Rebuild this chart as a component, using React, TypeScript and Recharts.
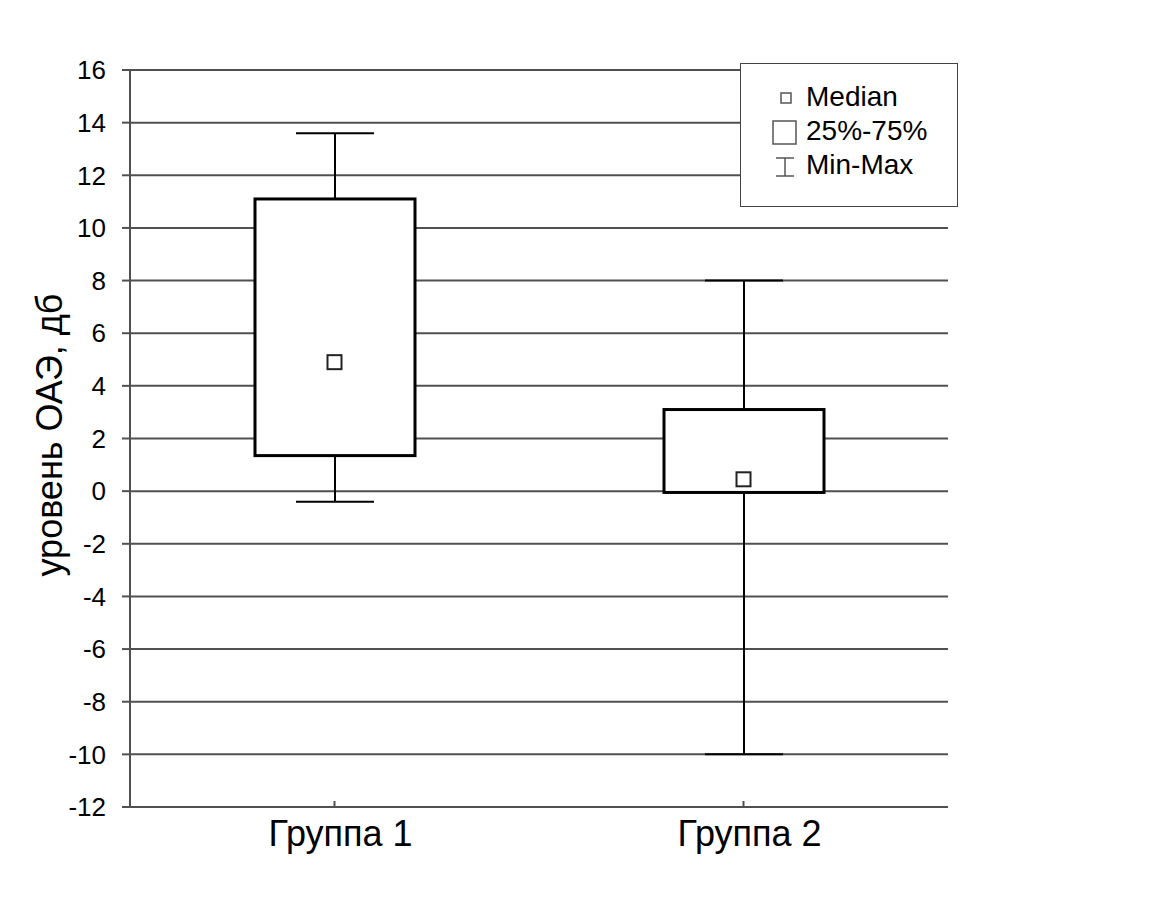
import React from "react";
import {
  ComposedChart,
  Bar,
  Line,
  XAxis,
  YAxis,
  CartesianGrid,
  Legend,
} from "recharts";

const groups = ["Группа 1", "Группа 2"];
const minValues = [-0.4, -10];
const q1Values = [1.35, -0.05];
const medianValues = [4.9, 0.45];
const q3Values = [11.1, 3.1];
const maxValues = [13.6, 8];
const yTicks = [-12, -10, -8, -6, -4, -2, 0, 2, 4, 6, 8, 10, 12, 14, 16];

const FONT = "'Liberation Sans', Arial, sans-serif";
const GRID = "#505050";

const data = groups.map((name, i) => ({
  name,
  whisker: [minValues[i], maxValues[i]],
  box: [q1Values[i], q3Values[i]],
  median: medianValues[i],
}));

// vertical line with caps at both ends
const WhiskerShape = (props: any) => {
  const { x, y, width, height } = props;
  const top = Math.min(y, y + height);
  const bottom = Math.max(y, y + height);
  const cx = x + width / 2;
  return (
    <g stroke="#000" strokeWidth={2}>
      <line x1={cx} y1={top} x2={cx} y2={bottom} />
      <line x1={x} y1={top} x2={x + width} y2={top} />
      <line x1={x} y1={bottom} x2={x + width} y2={bottom} />
    </g>
  );
};

const BoxShape = (props: any) => {
  const { x, y, width, height } = props;
  const top = Math.min(y, y + height);
  return (
    <rect
      x={x}
      y={top}
      width={width}
      height={Math.abs(height)}
      fill="#fff"
      stroke="#000"
      strokeWidth={3}
    />
  );
};

const MedianDot = (props: any) => {
  const { cx, cy, index } = props;
  if (cx == null || cy == null) return <g key={index} />;
  return (
    <rect
      key={index}
      x={cx - 7}
      y={cy - 7}
      width={14}
      height={14}
      fill="#fff"
      stroke="#222"
      strokeWidth={2}
    />
  );
};

const CategoryTick = (props: any) => {
  const { x, y, payload } = props;
  return (
    <g>
      <line x1={x} y1={y - 6} x2={x} y2={y} stroke={GRID} strokeWidth={2} />
      <text
        x={x + 6}
        y={y + 39}
        textAnchor="middle"
        fontSize={36}
        fontFamily={FONT}
        fill="#000"
      >
        {payload.value}
      </text>
    </g>
  );
};

const LegendBox = () => (
  <div
    style={{
      width: 218,
      height: 144,
      boxSizing: "border-box",
      border: "1.5px solid #444",
      background: "#fff",
      fontFamily: FONT,
      fontSize: 28,
      color: "#000",
      position: "relative",
    }}
  >
    <svg width={60} height={140} style={{ position: "absolute", left: 0, top: 0 }}>
      <rect x={40} y={29} width={10} height={10} fill="#fff" stroke="#555" strokeWidth={1.5} />
      <rect x={32} y={57} width={23} height={23} fill="#fff" stroke="#555" strokeWidth={1.5} />
      <g stroke="#555" strokeWidth={1.5}>
        <line x1={35} y1={94} x2={53} y2={94} />
        <line x1={44} y1={94} x2={44} y2={112} />
        <line x1={35} y1={112} x2={53} y2={112} />
      </g>
    </svg>
    <div style={{ position: "absolute", left: 65, top: 16, lineHeight: "34px" }}>
      <div>Median</div>
      <div>25%-75%</div>
      <div>Min-Max</div>
    </div>
  </div>
);

const YLabel = () => (
  <text
    x={62}
    y={435}
    transform="rotate(-90 62 435)"
    textAnchor="middle"
    fontSize={36}
    fontFamily={FONT}
    fill="#000"
  >
    уровень ОАЭ, дб
  </text>
);

export default function App() {
  return (
    <div style={{ position: "absolute", left: 0, top: 0, background: "#fff" }}>
      <ComposedChart
        width={1160}
        height={909}
        data={data}
        margin={{ top: 70, right: 212, bottom: 72, left: 0 }}
      >
        <CartesianGrid
          xAxisId="main"
          yAxisId="left"
          vertical={false}
          stroke={GRID}
          strokeWidth={2}
          strokeDasharray=""
        />
        <XAxis
          dataKey="name"
          xAxisId="main"
          height={30}
          axisLine={{ stroke: GRID, strokeWidth: 2 }}
          tickLine={false}
          tickSize={0}
          tickMargin={0}
          tick={<CategoryTick />}
          interval={0}
        />
        <XAxis dataKey="name" xAxisId="whisker" hide />
        <YAxis
          yAxisId="left"
          width={130}
          domain={[-12, 16]}
          ticks={yTicks}
          interval={0}
          allowDataOverflow
          axisLine={{ stroke: GRID, strokeWidth: 2 }}
          tickLine={{ stroke: GRID, strokeWidth: 2 }}
          tickSize={8}
          tickMargin={16}
          tick={{ fontSize: 26, fontFamily: FONT, fill: "#000" }}
          label={{ content: () => <YLabel /> }}
        />
        <YAxis
          yAxisId="right"
          orientation="right"
          width={0}
          domain={[-12, 16]}
          tick={false}
          tickLine={false}
          axisLine={{ stroke: GRID, strokeWidth: 2 }}
        />
        <Bar
          dataKey="whisker"
          xAxisId="whisker"
          yAxisId="left"
          barSize={78}
          shape={<WhiskerShape />}
          isAnimationActive={false}
        />
        <Bar
          dataKey="box"
          xAxisId="main"
          yAxisId="left"
          barSize={160}
          shape={<BoxShape />}
          isAnimationActive={false}
        />
        <Line
          dataKey="median"
          xAxisId="main"
          yAxisId="left"
          stroke="none"
          dot={<MedianDot />}
          activeDot={false}
          isAnimationActive={false}
        />
        <Legend
          layout="horizontal"
          verticalAlign="middle"
          align="center"
          content={() => <LegendBox />}
          wrapperStyle={{ left: 740, top: 63, width: 218, height: 144 }}
        />
      </ComposedChart>
    </div>
  );
}
